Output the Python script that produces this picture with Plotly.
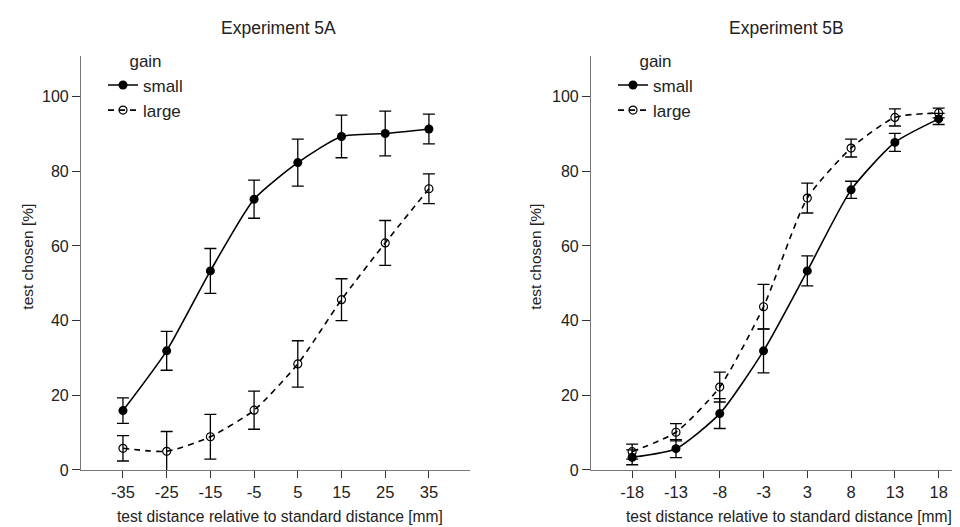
import plotly.graph_objects as go

# ---------------- data ----------------
cats_a = ["-35", "-25", "-15", "-5", "5", "15", "25", "35"]
small_a = [15.9, 31.9, 53.3, 72.5, 82.3, 89.3, 90.1, 91.3]
small_a_err = [3.4, 5.2, 6.0, 5.1, 6.3, 5.7, 6.0, 4.0]
large_a = [5.8, 5.0, 8.9, 16.0, 28.4, 45.6, 60.8, 75.3]
large_a_err = [3.4, 5.3, 6.0, 5.1, 6.2, 5.6, 6.0, 4.0]

cats_b = ["-18", "-13", "-8", "-3", "3", "8", "13", "18"]
small_b = [3.4, 5.7, 15.1, 31.9, 53.3, 75.0, 87.7, 94.0]
small_b_err = [2.0, 2.4, 4.0, 5.9, 4.0, 2.3, 2.4, 1.5]
large_b = [4.9, 10.1, 22.2, 43.7, 72.8, 86.2, 94.4, 95.6]
large_b_err = [2.0, 2.3, 4.0, 6.0, 4.0, 2.4, 2.3, 1.3]

y_ticks = [0, 20, 40, 60, 80, 100]
FONT = "Liberation Sans, Arial, sans-serif"
W, H = 960, 527

fig = go.Figure()

def add_pair(cats, s, se, l, le, xa, ya, leg):
    fig.add_trace(go.Scatter(
        x=cats, y=s, name="small", mode="lines+markers",
        line=dict(color="black", width=1.6, shape="spline", smoothing=0.6),
        marker=dict(symbol="circle", size=9, color="black"),
        error_y=dict(type="data", array=se, visible=True, color="black", thickness=1.3, width=6),
        xaxis=xa, yaxis=ya, legend=leg))
    fig.add_trace(go.Scatter(
        x=cats, y=l, name="large", mode="lines+markers",
        line=dict(color="black", width=1.6, dash="6px,5px", shape="spline", smoothing=0.6),
        marker=dict(symbol="circle-open", size=8, color="black", line=dict(width=1.2, color="black")),
        error_y=dict(type="data", array=le, visible=True, color="black", thickness=1.3, width=6),
        xaxis=xa, yaxis=ya, legend=leg))

add_pair(cats_a, small_a, small_a_err, large_a, large_a_err, "x", "y", "legend")
add_pair(cats_b, small_b, small_b_err, large_b, large_b_err, "x2", "y2", "legend2")

ydom = [(H - 470) / H, (H - 49) / H]
xcommon = dict(type="category", showgrid=False, zeroline=False, showline=True,
               linecolor="#777", linewidth=1.2, ticks="outside", ticklen=7,
               tickcolor="#333", tickwidth=1.2,
               tickfont=dict(family=FONT, size=16.5, color="#222"))
ycommon = dict(range=[0, 110.8], showgrid=False, zeroline=False, showline=True,
               linecolor="#777", linewidth=1.2, ticks="outside", ticklen=8,
               tickcolor="#333", tickwidth=1.2, tickvals=y_ticks, ticklabelstandoff=0,
               tickfont=dict(family=FONT, size=16, color="#222"), domain=ydom)

legcommon = dict(font=dict(family=FONT, size=17, color="#222"),
                 title=dict(text="gain", side="top center", font=dict(family=FONT, size=17, color="#222")),
                 bgcolor="rgba(0,0,0,0)", xanchor="left", yanchor="top",
                 tracegroupgap=0, itemwidth=30)

fig.update_layout(
    width=W, height=H,
    margin=dict(l=0, r=0, t=0, b=0),
    paper_bgcolor="white", plot_bgcolor="white",
    font=dict(family=FONT, color="#222"),
    xaxis=dict(xcommon, domain=[73 / W, 462 / W], range=[-0.96, 7.94], anchor="y"),
    yaxis=dict(ycommon, anchor="x"),
    xaxis2=dict(xcommon, domain=[583 / W, 1.0], range=[-0.94, 7.67], anchor="y2"),
    yaxis2=dict(ycommon, anchor="x2"),
    legend=dict(legcommon, x=95 / W, y=(H - 38) / H),
    legend2=dict(legcommon, x=605 / W, y=(H - 38) / H),
    showlegend=True,
)

ann = [
    ("Experiment 5A", 270, 20, 0, 17.5),
    ("Experiment 5B", 778, 20, 0, 17.5),
    ("test distance relative to standard distance [mm]", 272, 517, 0, 15.6),
    ("test distance relative to standard distance [mm]", 781, 517, 0, 15.6),
    ("test chosen [%]", 20, 253, -90, 15.5),
    ("test chosen [%]", 528, 253, -90, 15.5),
]
for text, px, py, ang, sz in ann:
    fig.add_annotation(text=text, x=px / W, y=(H - py) / H, xref="paper", yref="paper",
                       showarrow=False, textangle=ang, xanchor="center", yanchor="middle",
                       font=dict(family=FONT, size=sz, color="#222"))

fig.write_html("out.html")
